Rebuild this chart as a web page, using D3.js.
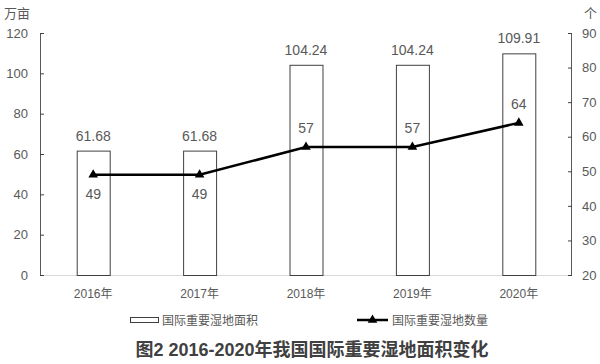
<!DOCTYPE html>
<html>
<head>
<meta charset="utf-8">
<script src="https://cdn.jsdelivr.net/npm/d3@7"></script>
<style>
  body { margin: 0; background: #fff; }
  text { font-family: "Liberation Sans", "Noto Sans CJK SC", sans-serif; fill: #595959; }
</style>
</head>
<body>
<svg id="chart" width="600" height="364"></svg>
<script>
const years = ["2016年", "2017年", "2018年", "2019年", "2020年"];
const area = [61.68, 61.68, 104.24, 104.24, 109.91];
const count = [49, 49, 57, 57, 64];
const countLabelBelow = [true, true, false, false, false];
const leftTicks = [0, 20, 40, 60, 80, 100, 120];
const rightTicks = [20, 30, 40, 50, 60, 70, 80, 90];

const svg = d3.select("#chart");
const plotL = 40, plotR = 572, plotT = 33, plotB = 275;

const x = d3.scaleBand().domain(years).range([plotL, plotR]).paddingInner(0.69).paddingOuter(0.345);
const yL = d3.scaleLinear().domain([0, 120]).range([plotB, plotT]);
const yR = d3.scaleLinear().domain([20, 90]).range([plotB, plotT]);

// bottom axis line
svg.append("line")
  .attr("x1", plotL).attr("x2", plotR)
  .attr("y1", plotB + 0.5).attr("y2", plotB + 0.5)
  .attr("stroke", "#d9d9d9").attr("stroke-width", 1);

// left axis
const gL = svg.append("g").attr("transform", `translate(${plotL},0)`)
  .call(d3.axisRight(yL).tickValues(leftTicks).tickSize(4).tickFormat(d3.format("d")));
gL.select(".domain").attr("stroke", "#595959").attr("d", `M0.5,${plotT}V${plotB}`);
gL.selectAll(".tick line").attr("stroke", "#404040");
gL.selectAll(".tick text").attr("x", -12).attr("text-anchor", "end")
  .style("font-size", "13px");

// right axis
const gR = svg.append("g").attr("transform", `translate(${plotR},0)`)
  .call(d3.axisLeft(yR).tickValues(rightTicks).tickSize(4).tickFormat(d3.format("d")));
gR.select(".domain").attr("stroke", "#595959").attr("d", `M-0.5,${plotT}V${plotB}`);
gR.selectAll(".tick line").attr("stroke", "#404040");
gR.selectAll(".tick text").attr("x", 10).attr("text-anchor", "start")
  .style("font-size", "13px");

// unit labels
svg.append("text").attr("x", 4).attr("y", 18).style("font-size", "13px").text("万亩");
svg.append("text").attr("x", 584).attr("y", 18).style("font-size", "13px").text("个");

// bars
svg.append("g").selectAll("rect").data(area).join("rect")
  .attr("x", (d, i) => x(years[i]) + 0.5)
  .attr("y", d => yL(d) + 0.5)
  .attr("width", x.bandwidth())
  .attr("height", d => plotB - yL(d))
  .attr("fill", "#fff")
  .attr("stroke", "#404040")
  .attr("stroke-width", 1);

svg.append("g").selectAll("text").data(area).join("text")
  .attr("x", (d, i) => x(years[i]) + x.bandwidth() / 2)
  .attr("y", d => yL(d) - 10)
  .attr("text-anchor", "middle")
  .style("font-size", "14px")
  .text(d => d.toFixed(2));

// line
const cx = (i) => x(years[i]) + x.bandwidth() / 2;
const line = d3.line().x((d, i) => cx(i)).y(d => yR(d));
svg.append("path").datum(count)
  .attr("d", line)
  .attr("fill", "none")
  .attr("stroke", "#000")
  .attr("stroke-width", 2.5);

const tri = d3.symbol().type(d3.symbolTriangle).size(40);
svg.append("g").selectAll("path").data(count).join("path")
  .attr("d", tri)
  .attr("transform", (d, i) => `translate(${cx(i)},${yR(d)})`)
  .attr("fill", "#000");

svg.append("g").selectAll("text").data(count).join("text")
  .attr("x", (d, i) => cx(i))
  .attr("y", (d, i) => countLabelBelow[i] ? yR(d) + 24 : yR(d) - 14)
  .attr("text-anchor", "middle")
  .style("font-size", "14px")
  .text(d => d);

// x labels
svg.append("g").selectAll("text").data(years).join("text")
  .attr("x", d => x(d) + x.bandwidth() / 2)
  .attr("y", 298)
  .attr("text-anchor", "middle")
  .style("font-size", "12px")
  .text(d => d);

// legend
const lg = svg.append("g");
lg.append("rect").attr("x", 130.5).attr("y", 317.5).attr("width", 28).attr("height", 5)
  .attr("fill", "#fff").attr("stroke", "#404040");
lg.append("text").attr("x", 162).attr("y", 325).style("font-size", "12px").text("国际重要湿地面积");
lg.append("line").attr("x1", 357).attr("x2", 388).attr("y1", 320).attr("y2", 320)
  .attr("stroke", "#000").attr("stroke-width", 2.5);
lg.append("path").attr("d", tri).attr("transform", "translate(372.5,320)").attr("fill", "#000");
lg.append("text").attr("x", 392).attr("y", 325).style("font-size", "12px").text("国际重要湿地数量");

// title
svg.append("text").attr("x", 312).attr("y", 356).attr("text-anchor", "middle")
  .style("font-size", "18px").style("font-weight", "bold").style("fill", "#404040")
  .text("图2 2016-2020年我国国际重要湿地面积变化");
</script>
</body>
</html>
